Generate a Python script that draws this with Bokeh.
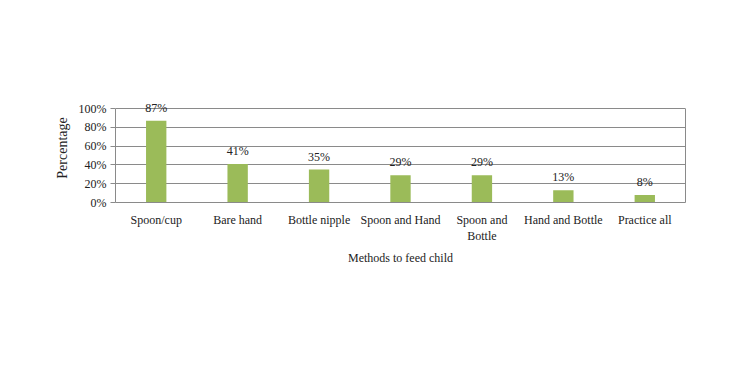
from bokeh.plotting import figure
from bokeh.models import ColumnDataSource, LabelSet, PrintfTickFormatter, FactorRange, LinearAxis, FixedTicker
from bokeh.core.properties import value
from bokeh.embed import file_html
from bokeh.resources import INLINE

categories = ["Spoon/cup", "Bare hand", "Bottle nipple", "Spoon and Hand",
              "Spoon and\nBottle", "Hand and Bottle", "Practice all"]
values = [87, 41, 35, 29, 29, 13, 8]
value_labels = ["87%", "41%", "35%", "29%", "29%", "13%", "8%"]
y_ticks = [0, 20, 40, 60, 80, 100]

FONT = "Liberation Serif"
GRAY = "#8a8a8a"

src = ColumnDataSource(dict(cat=categories, val=values, lab=value_labels))

p = figure(width=750, height=375, x_range=FactorRange(*categories), y_range=(0, 116),
           output_backend="svg", toolbar_location=None,
           min_border_left=115, min_border_right=65, min_border_top=93, min_border_bottom=173)
p.background_fill_color = "white"
p.border_fill_color = "white"
p.outline_line_color = None

p.vbar(x="cat", top="val", width=0.25, source=src, fill_color="#9BBB59", line_color=None)

labels = LabelSet(x="cat", y="val", text="lab", source=src, text_align="center",
                  text_baseline="bottom", y_offset=6, text_font=value(FONT),
                  text_font_size="12px", text_color="#222222")
p.add_layout(labels)

p.xgrid.grid_line_color = None
p.ygrid.grid_line_color = GRAY
p.ygrid.grid_line_width = 1
p.yaxis.ticker = y_ticks
p.yaxis.formatter = PrintfTickFormatter(format="%d%%")
p.yaxis.bounds = (0, 100)

for ax in (p.xaxis[0], p.yaxis[0]):
    ax.axis_line_color = GRAY
    ax.major_label_text_font = FONT
    ax.major_label_text_font_size = "12px"
    ax.major_label_text_color = "#222222"
    ax.axis_label_text_font = FONT
    ax.axis_label_text_font_style = "normal"
    ax.axis_label_text_color = "#222222"
    ax.minor_tick_line_color = None

p.yaxis[0].major_tick_line_color = GRAY
p.yaxis[0].major_tick_in = 0
p.yaxis[0].major_tick_out = 5
p.yaxis[0].major_label_standoff = 4
p.yaxis[0].axis_label = "Percentage"
p.yaxis[0].axis_label_text_font_size = "14px"
p.yaxis[0].axis_label_standoff = 6

p.xaxis[0].major_tick_line_color = None
p.xaxis[0].major_label_standoff = 4
p.xaxis[0].axis_label = "Methods to feed child"
p.xaxis[0].axis_label_text_font_size = "12px"
p.xaxis[0].axis_label_standoff = 5

right = LinearAxis(bounds=(0, 100), ticker=FixedTicker(ticks=[]),
                   major_tick_line_color=None, minor_tick_line_color=None,
                   axis_line_color=GRAY)
p.add_layout(right, "right")

open("out.html", "w").write(file_html(p, INLINE))
